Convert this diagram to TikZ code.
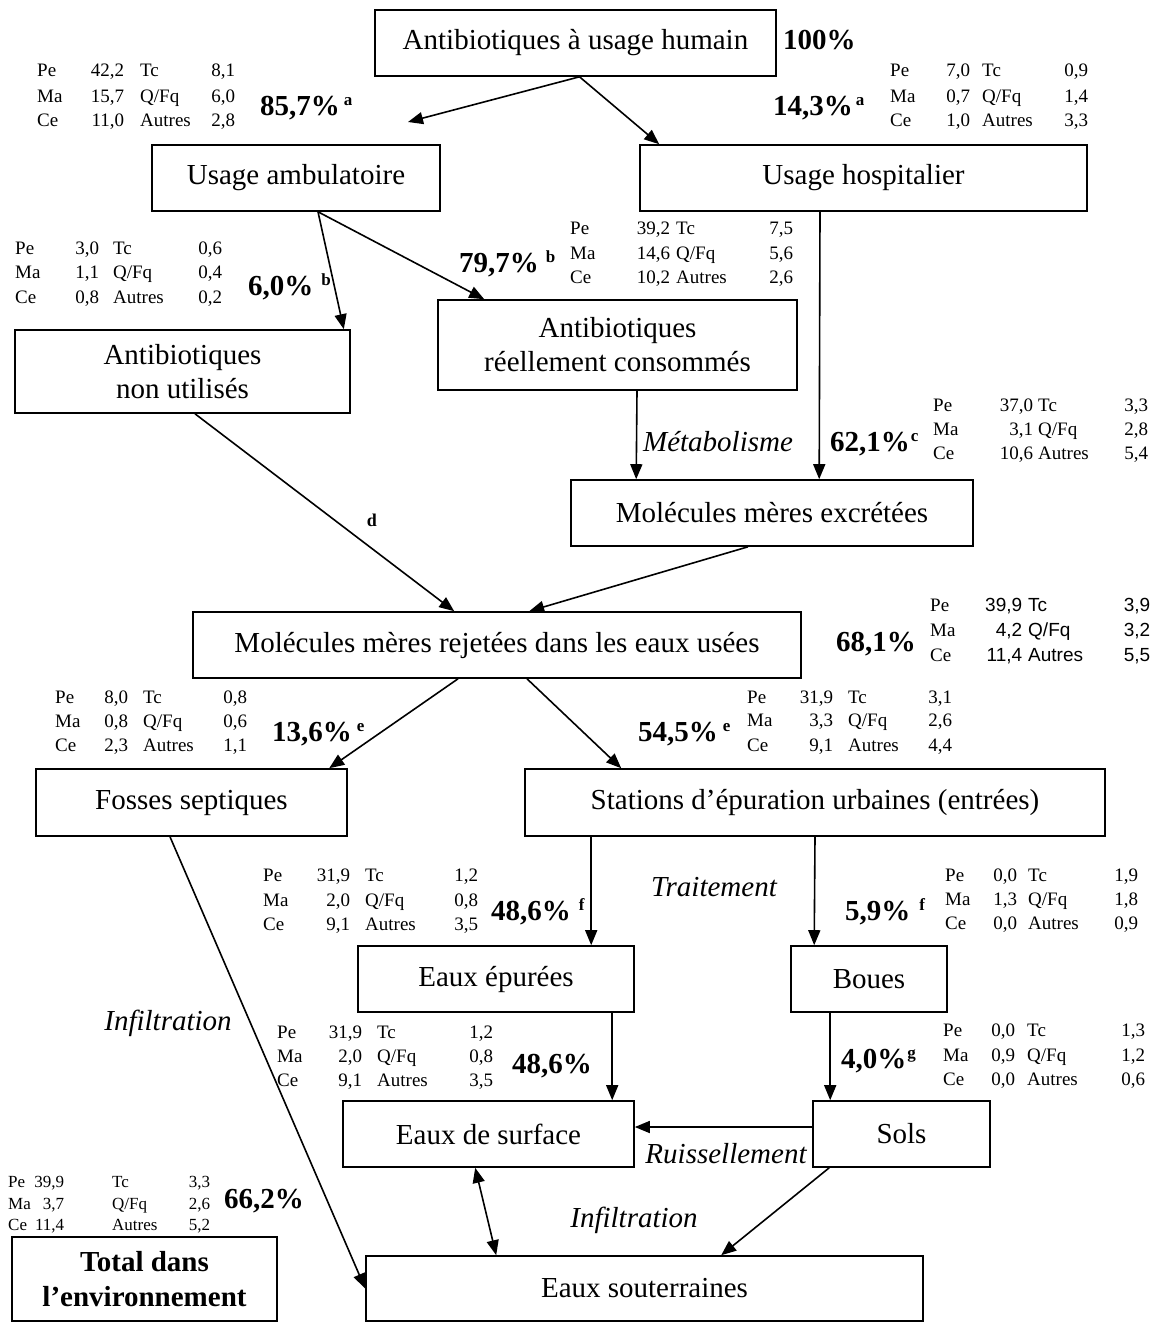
\documentclass[tikz,border=0pt]{standalone}
\usepackage{fontspec}
\setmainfont{Liberation Serif}
\newfontfamily\sansf{Liberation Sans}
\usetikzlibrary{arrows.meta}
\newlength\wa \newlength\wb \newlength\gp
\newcommand\settab[3]{\setlength\wa{#1pt}\setlength\gp{#2pt}\setlength\wb{#3pt}}
\newcommand\drow[7]{\node[datarow] (#1) at (#2,#3) {\makebox[\wa][l]{#4\hfill #5}\hspace{\gp}\makebox[\wb][l]{#6\hfill #7}};}
\newcommand\supl[1]{{\fontsize{17}{17}\selectfont\raisebox{10pt}{#1}}}
\tikzset{
  box/.style={draw, line width=1.6pt, inner sep=0pt, font=\fontsize{29}{34}\selectfont, align=center},
  arr/.style={line width=1.6pt, -{Triangle[length=15pt,width=12pt]}},
  dblarr/.style={line width=1.6pt, {Triangle[length=15pt,width=12pt]}-{Triangle[length=15pt,width=12pt]}},
  pct/.style={font=\fontsize{29}{34}\selectfont\bfseries, inner sep=0pt, anchor=base west},
  lab/.style={font=\fontsize{29}{34}\selectfont\itshape, inner sep=0pt, anchor=base},
  datarow/.style={anchor=base west, inner sep=0pt, font=\fontsize{19}{19}\selectfont},
}
\begin{document}
\begin{tikzpicture}[x=1pt,y=-1pt]
\useasboundingbox (0,0) rectangle (1156,1322);
\fill[white] (0,0) rectangle (1156,1322);

% boxes
\node[box, minimum width=401, minimum height=66] (hum) at (575.5,43) {Antibiotiques à usage humain};
\node[box, minimum width=288, minimum height=66] (amb) at (296,178) {Usage ambulatoire};
\node[box, minimum width=447, minimum height=66] (hosp) at (863.5,178) {Usage hospitalier};
\node[box, minimum width=335, minimum height=83] (nonu) at (182.5,371.5) {Antibiotiques\\non utilisés};
\node[box, minimum width=359, minimum height=90] (reel) at (617.5,345) {Antibiotiques\\réellement consommés};
\node[box, minimum width=402, minimum height=66] (excr) at (772,513) {Molécules mères excrétées};
\node[box, minimum width=608, minimum height=66] (rej) at (497,645) {Molécules mères rejetées dans les eaux usées};
\node[box, minimum width=311, minimum height=67] (fos) at (191.5,802.5) {Fosses septiques};
\node[box, minimum width=580, minimum height=67] (stat) at (815,802.5) {Stations d’épuration urbaines (entrées)};
\node[box, minimum width=276, minimum height=66] (epur) at (496,979) {Eaux épurées};
\node[box, minimum width=156, minimum height=66] (boue) at (869,979) {Boues};
\node[box, minimum width=291, minimum height=66] (surf) at (488.5,1134) {Eaux de surface};
\node[box, minimum width=177, minimum height=66] (sols) at (901.5,1134) {Sols};
\node[box, minimum width=557, minimum height=65] (sout) at (644.5,1288.5) {Eaux souterraines};
\node[box, minimum width=265, minimum height=84, font=\fontsize{29}{35}\selectfont\bfseries] (tot) at (144.5,1279) {Total dans\\l’environnement};

% arrows
\coordinate (c1) at (408,122);
\draw[arr] ([xshift=4]hum.south) -- (c1);
\draw[arr] ([xshift=4]hum.south) -- ([xshift=20]hosp.north west);
\draw[arr] ([xshift=22]amb.south) -- ([xshift=-7]nonu.north east);
\draw[arr] ([xshift=22]amb.south) -- ([xshift=47]reel.north west);
\draw[arr] ([xshift=19.5]reel.south) -- ([xshift=66]excr.north west);
\draw[arr] ([xshift=-43.5]hosp.south) -- ([xshift=249]excr.north west);
\draw[arr] ([xshift=12.5]nonu.south) -- ([xshift=262]rej.north west);
\draw[arr] ([xshift=-24]excr.south) -- ([xshift=337]rej.north west);
\draw[arr] ([xshift=-39]rej.south) -- ([xshift=294]fos.north west);
\draw[arr] ([xshift=30]rej.south) -- ([xshift=97]stat.north west);
\draw[arr] ([xshift=-21.5]fos.south) -- (sout.west);
\draw[arr] ([xshift=67]stat.south west) -- ([xshift=234]epur.north west);
\draw[arr] (stat.south) -- ([xshift=24]boue.north west);
\draw[arr] ([xshift=255]epur.south west) -- ([xshift=270]surf.north west);
\draw[arr] ([xshift=40]boue.south west) -- ([xshift=18]sols.north west);
\draw[arr] ([yshift=7]sols.west) -- ([yshift=7]surf.east);
\draw[dblarr] ([xshift=133]surf.south west) -- ([xshift=131]sout.north west);
\draw[arr] ([xshift=17]sols.south west) -- ([xshift=356]sout.north west);

% percentages
\node[pct] (p100) at (783,50) {100\%};
\node[pct] (p857) at (260,115) {85,7\%\kern4pt\supl{a}};
\node[pct] (p143) at (773,115) {14,3\%\kern3pt\supl{a}};
\node[pct] (p60) at (248,295) {6,0\%\kern8pt\supl{b}};
\node[pct] (p797) at (459,272) {79,7\%\kern7pt\supl{b}};
\node[pct] (p621) at (830,451) {62,1\%\kern1pt\supl{c}};
\node[pct] (p681) at (836,651) {68,1\%};
\node[pct] (p136) at (272,741) {13,6\%\kern5pt\supl{e}};
\node[pct] (p545) at (638,741) {54,5\%\kern5pt\supl{e}};
\node[pct] (p486) at (491,920) {48,6\%\kern8pt\supl{f}};
\node[pct] (p59) at (845,920) {5,9\%\kern9pt\supl{f}};
\node[pct] (p486b) at (512,1073) {48,6\%};
\node[pct] (p40) at (841,1068) {4,0\%\kern1pt\supl{g}};
\node[pct] (p662) at (224,1208) {66,2\%};

% italic labels
\node[lab] (lmeta) at (718,451) {Métabolisme};
\node[lab] (ltrait) at (714,896) {Traitement};
\node[lab] (linf1) at (168,1030) {Infiltration};
\node[lab] (lruis) at (726,1163) {Ruissellement};
\node[lab] (linf2) at (634,1227) {Infiltration};
\node[anchor=base, inner sep=0pt, font=\fontsize{18}{18}\selectfont\bfseries] (ld) at (372,526) {d};

% data tables
\settab{87}{16}{95}
\drow{tA1}{37}{77}{Pe}{42,2}{Tc}{8,1}
\drow{tA2}{37}{102}{Ma}{15,7}{Q/Fq}{6,0}
\drow{tA3}{37}{126}{Ce}{11,0}{Autres}{2,8}

\settab{80}{12}{106}
\drow{tB1}{890}{77}{Pe}{7,0}{Tc}{0,9}
\drow{tB2}{890}{102}{Ma}{0,7}{Q/Fq}{1,4}
\drow{tB3}{890}{126}{Ce}{1,0}{Autres}{3,3}

\settab{84}{14}{109}
\drow{tC1}{15}{254}{Pe}{3,0}{Tc}{0,6}
\drow{tC2}{15}{278}{Ma}{1,1}{Q/Fq}{0,4}
\drow{tC3}{15}{303}{Ce}{0,8}{Autres}{0,2}

\settab{100}{6}{117}
\drow{tD1}{570}{234}{Pe}{39,2}{Tc}{7,5}
\drow{tD2}{570}{259}{Ma}{14,6}{Q/Fq}{5,6}
\drow{tD3}{570}{283}{Ce}{10,2}{Autres}{2,6}

\settab{100}{5}{110}
\drow{tE1}{933}{411}{Pe}{37,0}{Tc}{3,3}
\drow{tE2}{933}{435}{Ma}{3,1}{Q/Fq}{2,8}
\drow{tE3}{933}{459}{Ce}{10,6}{Autres}{5,4}

\settab{92}{6}{122}
\drow{tF1}{930}{611}{Pe}{\sansf 39,9}{\sansf Tc}{\sansf 3,9}
\drow{tF2}{930}{636}{Ma}{\sansf 4,2}{\sansf Q/Fq}{\sansf 3,2}
\drow{tF3}{930}{661}{Ce}{\sansf 11,4}{\sansf Autres}{\sansf 5,5}

\settab{73}{15}{104}
\drow{tG1}{55}{703}{Pe}{8,0}{Tc}{0,8}
\drow{tG2}{55}{727}{Ma}{0,8}{Q/Fq}{0,6}
\drow{tG3}{55}{751}{Ce}{2,3}{Autres}{1,1}

\settab{86}{15}{104}
\drow{tH1}{747}{703}{Pe}{31,9}{Tc}{3,1}
\drow{tH2}{747}{726}{Ma}{3,3}{Q/Fq}{2,6}
\drow{tH3}{747}{751}{Ce}{9,1}{Autres}{4,4}

\settab{87}{15}{113}
\drow{tI1}{263}{881}{Pe}{31,9}{Tc}{1,2}
\drow{tI2}{263}{906}{Ma}{2,0}{Q/Fq}{0,8}
\drow{tI3}{263}{930}{Ce}{9,1}{Autres}{3,5}

\settab{72}{11}{110}
\drow{tJ1}{945}{881}{Pe}{0,0}{Tc}{1,9}
\drow{tJ2}{945}{905}{Ma}{1,3}{Q/Fq}{1,8}
\drow{tJ3}{945}{929}{Ce}{0,0}{Autres}{0,9}

\settab{85}{15}{116}
\drow{tK1}{277}{1038}{Pe}{31,9}{Tc}{1,2}
\drow{tK2}{277}{1062}{Ma}{2,0}{Q/Fq}{0,8}
\drow{tK3}{277}{1086}{Ce}{9,1}{Autres}{3,5}

\settab{72}{12}{118}
\drow{tL1}{943}{1036}{Pe}{0,0}{Tc}{1,3}
\drow{tL2}{943}{1061}{Ma}{0,9}{Q/Fq}{1,2}
\drow{tL3}{943}{1085}{Ce}{0,0}{Autres}{0,6}

\tikzset{datarow/.append style={font=\fontsize{17}{17}\selectfont}}
\settab{56}{48}{98}
\drow{tM1}{8}{1187}{Pe}{39,9}{Tc}{3,3}
\drow{tM2}{8}{1209}{Ma}{3,7}{Q/Fq}{2,6}
\drow{tM3}{8}{1230}{Ce}{11,4}{Autres}{5,2}
\end{tikzpicture}
\end{document}
